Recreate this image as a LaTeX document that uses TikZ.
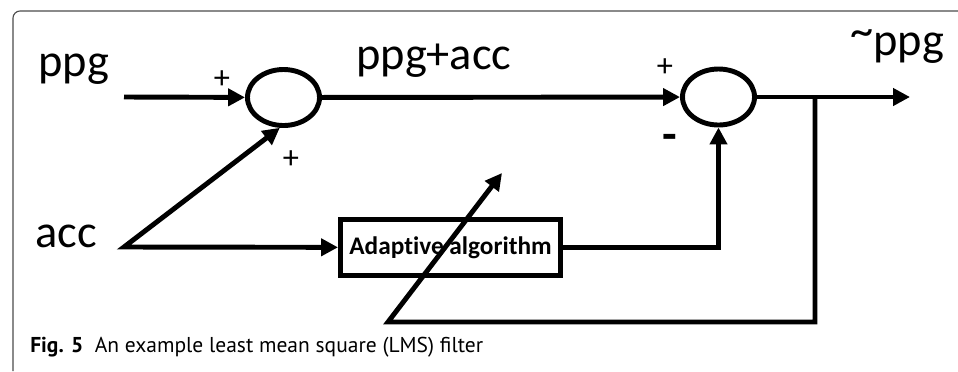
\documentclass[tikz,border=0pt]{standalone}
\usepackage{fontspec}
\setmainfont{Carlito}[Ligatures={TeX,NoCommon}]
\newfontfamily\capfont{PT Sans}
\usetikzlibrary{arrows.meta, shapes.geometric}

\begin{document}
\begin{tikzpicture}[x=0.025cm, y=-0.025cm,
    sig/.style={line width=3.5pt, -{Triangle[length=12pt,width=12pt]}},
    sumnode/.style={draw, ellipse, line width=3.5pt, minimum width=1.8cm, minimum height=1.4cm, inner sep=0pt},
    algobox/.style={draw, rectangle, line width=3.5pt, minimum width=5.5cm, minimum height=1.4cm, inner sep=0pt, font=\bfseries\fontsize{18}{20}\selectfont},
    biglbl/.style={anchor=base west, inner sep=0pt, font=\fontsize{33}{36}\selectfont},
    signlbl/.style={inner sep=0pt, font=\fontsize{23}{25}\selectfont}]
    \useasboundingbox (0,0) rectangle (958,371);

    % frame
    \draw[black!70, line width=0.8pt, rounded corners=5pt] (13,371) -- (13,11) -- (958,11);

    % blocks
    \node[sumnode] (sum1) at (283.5,97.5) {};
    \node[sumnode] (sum2) at (718.5,97) {};
    \node[algobox] (algo) at (450.5,247.5) {Adaptive algorithm};

    % signal labels
    \node[biglbl] (ppg) at (38,76) {ppg};
    \node[biglbl] (mix) at (356,69) {ppg+acc};
    \node[biglbl] (est) at (850,55) {\raisebox{0.18em}{\textasciitilde}ppg};
    \node[biglbl] (acc) at (35,247) {acc};

    % signs
    \node[signlbl] (p1) at (222,80) {+};
    \node[signlbl] (p2) at (291,160) {+};
    \node[signlbl] (p3) at (665,68) {+};
    \node[signlbl, font=\bfseries\fontsize{34}{36}\selectfont] (m1) at (670,142) {-};

    % connection points
    \coordinate (ppgin) at (124,97);
    \coordinate (accin) at (124,247);
    \coordinate (out) at (910,97);
    \coordinate (br) at (815,97);
    \coordinate (fb) at (388,322);
    \coordinate (tune) at (502,173);

    % signal paths
    \draw[sig] (ppgin) -- (sum1);
    \draw[sig] (sum1) -- (sum2);
    \draw[sig] (sum2) -- (out);
    \draw[sig, {Triangle[length=12pt,width=12pt]}-{Triangle[length=12pt,width=12pt]}] (sum1.263) -- (accin) -- (algo);
    \draw[sig] (algo) -| (sum2);
    \draw[sig] (br) |- (fb) -- (tune);

    % caption
    \node[anchor=base west, inner sep=0pt, font=\capfont\fontsize{15.3}{18}\selectfont] (cap) at (30,352) {\textbf{Fig. 5}\ \ An example least mean square (LMS) filter};
\end{tikzpicture}
\end{document}
